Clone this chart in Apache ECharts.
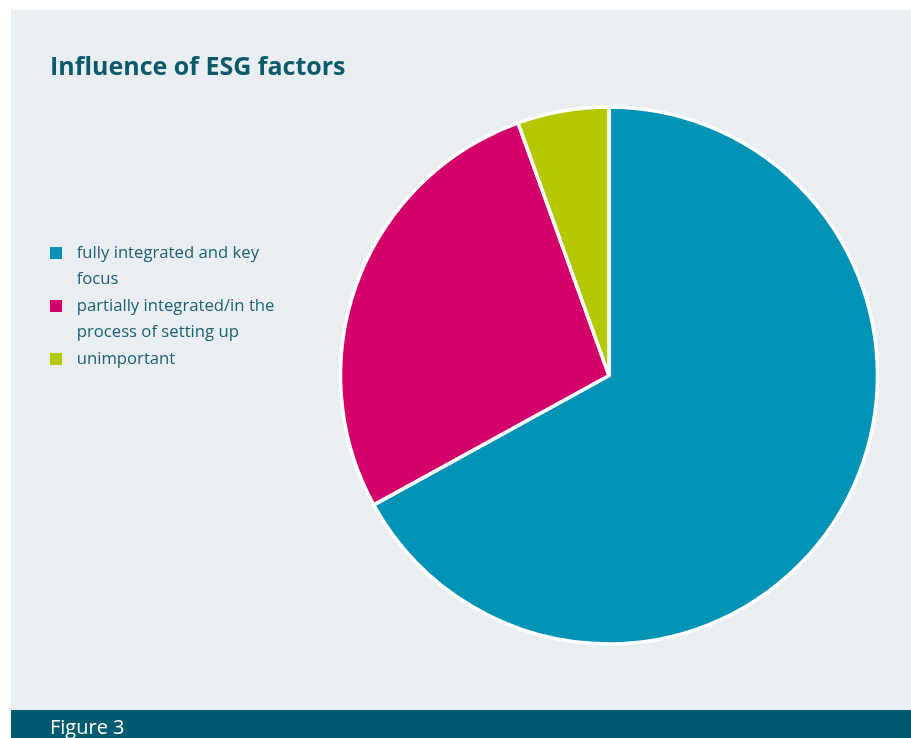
<!DOCTYPE html>
<html>
<head>
<meta charset="utf-8">
<script src="https://cdn.jsdelivr.net/npm/echarts@6/dist/echarts.min.js"></script>
<style>
  html, body { margin: 0; padding: 0; background: #ffffff; }
  #chart { width: 911px; height: 738px; }
</style>
</head>
<body>
<div id="chart"></div>
<script>
// Share of respondents by how far ESG factors are integrated (percent)
const categories = [
  'fully integrated and key focus',
  'partially integrated/in the process of setting up',
  'unimportant'
];
const legendLines = [
  'fully integrated and key\nfocus',
  'partially integrated/in the\nprocess of setting up',
  'unimportant'
];
const shares = [67, 27.5, 5.5];
const sliceColors = ['#0093b6', '#d30069', '#b3c800'];

const FONT = '"Open Sans", "Noto Sans", sans-serif';
const LINE_H = 26.5;

const chart = echarts.init(document.getElementById('chart'), null, { renderer: 'canvas' });

const pieData = categories.map((name, i) => ({
  name: name,
  value: shares[i],
  itemStyle: { color: sliceColors[i] }
}));

// Every legend label is laid out as three lines (blank, first, second) so the
// square, which ECharts centres on the label block, lines up with the first line.
function legendLabel(name) {
  const lines = legendLines[categories.indexOf(name)].split('\n');
  const block = ['', lines[0], lines[1] || ''];
  return block.map(l => '{g|}' + l).join('\n');
}

chart.setOption({
  animation: false,
  backgroundColor: '#ffffff',
  graphic: [
    {
      type: 'rect', z: -10, silent: true,
      shape: { x: 11, y: 10, width: 900, height: 700 },
      style: { fill: '#e9eef2' }
    },
    {
      type: 'rect', z: -9, silent: true,
      shape: { x: 11, y: 710, width: 900, height: 28 },
      style: { fill: '#005b6e' }
    },
    {
      type: 'text', z: 10, silent: true,
      x: 50, y: 718,
      style: {
        text: 'Figure 3',
        fill: '#ffffff',
        font: '20px ' + FONT,
        textVerticalAlign: 'top'
      }
    }
  ],
  title: {
    text: 'Influence of ESG factors',
    left: 50,
    top: 55,
    padding: 0,
    textStyle: {
      fontFamily: FONT,
      fontSize: 25,
      fontWeight: 'bold',
      color: '#0a5a6b'
    }
  },
  legend: {
    orient: 'vertical',
    left: 50,
    top: 247 - 33.75,
    padding: 0,
    icon: 'rect',
    itemWidth: 12,
    itemHeight: 12,
    itemGap: -LINE_H,
    selectedMode: false,
    itemStyle: { borderWidth: 0 },
    data: categories,
    formatter: legendLabel,
    textStyle: {
      fontFamily: FONT,
      fontSize: 16.7,
      color: '#1b6173',
      lineHeight: LINE_H,
      rich: {
        g: { width: 9.7, lineHeight: LINE_H }
      }
    }
  },
  series: [
    {
      type: 'pie',
      center: [609, 375.5],
      radius: 268.5,
      startAngle: 90,
      clockwise: true,
      label: { show: false },
      labelLine: { show: false },
      emphasis: { disabled: true },
      itemStyle: { borderColor: '#ffffff', borderWidth: 3.5 },
      data: pieData
    }
  ]
});
</script>
</body>
</html>
